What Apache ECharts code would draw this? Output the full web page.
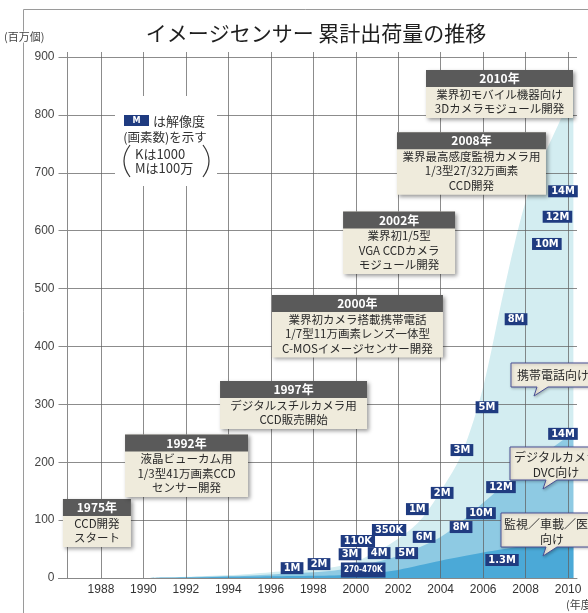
<!DOCTYPE html>
<html>
<head>
<meta charset="utf-8">
<script src="https://cdn.jsdelivr.net/npm/echarts@6/dist/echarts.min.js"></script>
<style>
html, body { margin: 0; padding: 0; background: #fff; }
#chart { width: 588px; height: 613px; }
</style>
</head>
<body>
<div id="chart"></div>
<script>
// Fiscal years (the last point closes the 2010 period)
const years = [1990, 1991, 1992, 1993, 1994, 1995, 1996, 1997, 1998, 1999, 2000,
  2001, 2002, 2003, 2004, 2005, 2006, 2007, 2008, 2009, 2010, 2010.25];

// Cumulative shipments per application (million units), stacked bottom to top
const surveillance = [0, 0.5, 1, 1.5, 2, 2.5, 3, 3.5, 4, 4.5, 6, 9, 14, 22, 30, 37, 44, 50, 56, 61, 66, 68];
const camera = [0, 0.5, 0.5, 1, 1.5, 2, 3, 4.5, 6, 8.5, 13, 19, 24, 31, 41, 61, 86, 110, 132, 157, 179, 184];
const mobile = [0, 0, 0.5, 1, 1.5, 2.5, 4, 4, 5, 6, 9, 18, 30, 45, 79, 117, 200, 340, 462, 522, 575, 593];

// Axis tick labels
const xTickLabels = [1988, 1990, 1992, 1994, 1996, 1998, 2000, 2002, 2004, 2006, 2008, 2010];
const yTickLabels = [0, 100, 200, 300, 400, 500, 600, 700, 800, 900];

// Sensor resolution tags (text, year, level)
const resText = ['1M', '2M', '270-470K', '3M', '4M', '5M', '110K', '350K', '6M', '1M', '2M', '3M',
  '5M', '8M', '10M', '12M', '14M', '8M', '10M', '12M', '14M', '1.3M'];
const resYear = [1997.0, 1998.27, 2000.35, 1999.73, 2001.1, 2002.4, 2000.1, 2001.57, 2003.22, 2002.9,
  2004.07, 2005.0, 2006.18, 2007.55, 2009.0, 2009.5, 2009.76, 2004.96, 2005.9, 2006.84, 2009.76, 2006.89];
const resLevel = [17, 24, 14, 41, 43, 43, 64, 83, 71, 119, 147, 221, 295, 447, 577, 624, 668,
  88, 112, 157, 249, 31];

// Milestones
const milestoneYear = ['1975年', '1992年', '1997年', '2000年', '2002年', '2008年', '2010年'];
const milestoneText = [
  ['CCD開発', 'スタート'],
  ['液晶ビューカム用', '1/3型41万画素CCD', 'センサー開発'],
  ['デジタルスチルカメラ用', 'CCD販売開始'],
  ['業界初カメラ搭載携帯電話', '1/7型11万画素レンズ一体型', 'C-MOSイメージセンサー開発'],
  ['業界初1/5型', 'VGA CCDカメラ', 'モジュール開発'],
  ['業界最高感度監視カメラ用', '1/3型27/32万画素', 'CCD開発'],
  ['業界初モバイル機器向け', '3Dカメラモジュール開発']
];

// Milestone box placement (box centre in axis units) and box widths
const milestoneAt = [[1987.81, 95], [1992.03, 194], [1997.07, 299], [2000.08, 435],
  [2002.04, 579], [2005.45, 716], [2006.77, 836]];
const milestoneWidth = [68, 123, 147, 171, 112, 149, 147];

const FONT_JP = '"Noto Sans CJK JP", "Noto Sans", sans-serif';
const FONT_NUM = '"Liberation Sans Narrow", "DejaVu Sans Condensed", "Liberation Sans", sans-serif';
const FONT_AXIS = '"Liberation Sans", "Noto Sans", sans-serif';
const GRID_COLOR = 'rgba(95,95,95,0.72)';
const NAVY = '#1f3b80';

// Running totals, so each band's top edge sits on the band below it
// (the x axis is a value axis, so the stacking is done here)
const stackLevels = (() => {
  const layers = [surveillance, camera, mobile];
  const acc = years.map(() => 0);
  return layers.map(arr => arr.map((v, i) => (acc[i] += v)));
})();
const bandData = k => years.map((y, i) => [y, stackLevels[k][i]]);

const resData = resText.map((t, i) => {
  const item = { value: [resYear[i], resLevel[i]], name: t };
  if (t.length > 5) {
    item.label = { fontSize: 8, padding: [2, 3, 1, 3] };
  }
  return item;
});

const milestoneData = milestoneYear.map((yr, i) => {
  const w = milestoneWidth[i];
  const body = milestoneText[i].map(l => '{b|' + l + '}').join('\n');
  return {
    value: milestoneAt[i],
    label: {
      show: true,
      position: 'inside',
      formatter: '{h|' + yr + '}\n' + body,
      backgroundColor: '#efebdc',
      padding: [0, 0, 2, 0],
      shadowColor: 'rgba(0,0,0,0.4)',
      shadowBlur: 4,
      shadowOffsetX: 2,
      shadowOffsetY: 2,
      rich: {
        h: {
          width: w, height: 17, lineHeight: 17, align: 'center',
          backgroundColor: '#5a5a5a', color: '#fff', fontWeight: 'bold',
          fontSize: 12, fontFamily: FONT_JP
        },
        b: {
          width: w, lineHeight: 14.5, align: 'center', color: '#2a2a2a',
          fontSize: 11.5, fontFamily: FONT_JP
        }
      }
    }
  };
});

// Speech bubble with a tail pointing down-left
function bubble(x, y, w, h, tailL, tailR, tipX, tipY, lines, cx, lineY) {
  const els = [{
    type: 'polygon', z: 20,
    shape: { points: [[x, y], [x + w, y], [x + w, y + h], [tailR, y + h], [tipX, tipY], [tailL, y + h], [x, y + h]] },
    style: {
      fill: '#efebdc', stroke: '#4a5196', lineWidth: 1,
      shadowBlur: 3, shadowColor: 'rgba(0,0,0,0.25)', shadowOffsetX: 1, shadowOffsetY: 1
    }
  }];
  lines.forEach((t, i) => {
    els.push({
      type: 'text', z: 21,
      style: {
        text: t, x: cx, y: lineY[i], fill: '#2a2a2a',
        font: '12px ' + FONT_JP,
        align: 'center', verticalAlign: 'middle',
        textAlign: 'center', textVerticalAlign: 'middle'
      }
    });
  });
  return els;
}

function txt(t, x, y, font, fill, align, extra) {
  return Object.assign({
    type: 'text', z: 20,
    style: {
      text: t, x: x, y: y, font: font, fill: fill || '#333',
      align: align || 'left', verticalAlign: 'middle',
      textAlign: align || 'left', textVerticalAlign: 'middle'
    }
  }, extra || {});
}

const graphics = [
  // outer frame
  { type: 'polyline', z: 1, shape: { points: [[23.5, 613], [23.5, 9.5], [588, 9.5]] },
    style: { stroke: '#9a9a9a', lineWidth: 1, fill: null } },
  txt('イメージセンサー 累計出荷量の推移', 316, 33, '21px ' + FONT_JP, '#1e1e1e', 'center'),
  { type: 'text', z: 20, style: { text: '(百万個)', x: 4, y: 37, font: '11px ' + FONT_JP, fill: '#444',
      backgroundColor: '#fff', verticalAlign: 'middle', textVerticalAlign: 'middle' } },
  txt('(年度)', 566, 605, '11px ' + FONT_JP, '#444', 'left'),

  // resolution note
  { type: 'rect', z: 15, shape: { x: 115, y: 96, width: 102, height: 90 }, style: { fill: '#fff' } },
  { type: 'rect', z: 16, shape: { x: 124, y: 115, width: 25, height: 11 }, style: { fill: NAVY } },
  txt('M', 136.5, 120.5, 'bold 9px ' + FONT_NUM, '#fff', 'center'),
  txt('は解像度', 153, 121, '13px ' + FONT_JP, '#333', 'left'),
  txt('(画素数)を示す', 165, 137, '12.5px ' + FONT_JP, '#333', 'center'),
  txt('Kは1000', 135, 154, '13px ' + FONT_JP, '#333', 'left'),
  txt('Mは100万', 135, 168, '13px ' + FONT_JP, '#333', 'left'),
  { type: 'bezierCurve', z: 16, shape: { x1: 130, y1: 145, x2: 130, y2: 177, cpx1: 118, cpy1: 161 },
    style: { stroke: '#333', lineWidth: 1.2, fill: null } },
  { type: 'bezierCurve', z: 16, shape: { x1: 203, y1: 145, x2: 203, y2: 177, cpx1: 215, cpy1: 161 },
    style: { stroke: '#333', lineWidth: 1.2, fill: null } }
].concat(
  bubble(511, 363, 100, 24, 537, 548, 534, 396, ['携帯電話向け'], 553, [375]),
  bubble(510, 447, 100, 33, 546, 557, 543, 489, ['デジタルカメラ', 'DVC向け'], 556, [457, 472]),
  bubble(501, 513, 110, 34, 546, 557, 543, 556, ['監視／車載／医療', '向け'], 552, [524, 539])
);

function band(name, k, color, z) {
  return {
    name: name, type: 'line', z: z, silent: true,
    data: bandData(k), smooth: 0.3, symbol: 'none',
    lineStyle: { width: 0 }, areaStyle: { color: color, opacity: 1 }
  };
}

const option = {
  animation: false,
  grid: { left: 58.5, right: 11, top: 52, bottom: 35, containLabel: false },
  xAxis: {
    type: 'value', min: 1986, max: 2010.42, interval: 2, z: 3,
    axisLine: { show: true, lineStyle: { color: '#888', width: 1 } },
    axisTick: { show: false },
    axisLabel: {
      margin: 6, color: '#333', fontSize: 12, fontFamily: FONT_AXIS,
      formatter: v => (xTickLabels.indexOf(v) >= 0 ? String(v) : '')
    },
    splitLine: { show: true, showMinLine: false, showMaxLine: false, lineStyle: { color: GRID_COLOR, width: 1 } }
  },
  yAxis: {
    type: 'value', min: 0, max: 908.6, interval: 100, z: 3,
    axisLine: { show: false },
    axisTick: { show: false },
    axisLabel: {
      margin: 4, color: '#444', fontSize: 12, fontFamily: FONT_AXIS,
      formatter: v => (yTickLabels.indexOf(v) >= 0 ? String(v) : '')
    },
    splitLine: { show: true, showMaxLine: false, lineStyle: { color: GRID_COLOR, width: 1 } }
  },
  series: [
    band('携帯電話向け', 2, '#d3edf1', 1),
    band('デジタルカメラ DVC向け', 1, '#8ecae3', 1.5),
    band('監視／車載／医療向け', 0, '#4ba9d7', 2),
    {
      // vertical value axis line, drawn a little inside the plot edge
      type: 'line', data: [], z: 4, silent: true,
      markLine: {
        silent: true, symbol: 'none', animation: false,
        label: { show: false },
        lineStyle: { color: '#8a8a8a', width: 1, type: 'solid' },
        data: [{ xAxis: 1986.4 }]
      }
    },
    {
      name: 'resolution', type: 'scatter', z: 6, silent: true,
      symbolSize: 0, itemStyle: { color: NAVY, opacity: 1 },
      data: resData,
      label: {
        show: true, position: 'inside',
        formatter: p => p.data.name,
        backgroundColor: NAVY, color: '#fff', fontWeight: 'bold', opacity: 1,
        fontSize: 11, lineHeight: 12, padding: [0, 3, 0, 3], fontFamily: FONT_NUM
      }
    },
    {
      name: 'milestones', type: 'scatter', z: 8, silent: true,
      symbolSize: 0, itemStyle: { color: '#efebdc', opacity: 1 },
      data: milestoneData
    }
  ],
  graphic: graphics
};

const chart = echarts.init(document.getElementById('chart'), null, { renderer: 'canvas' });
chart.setOption(option);
</script>
</body>
</html>
